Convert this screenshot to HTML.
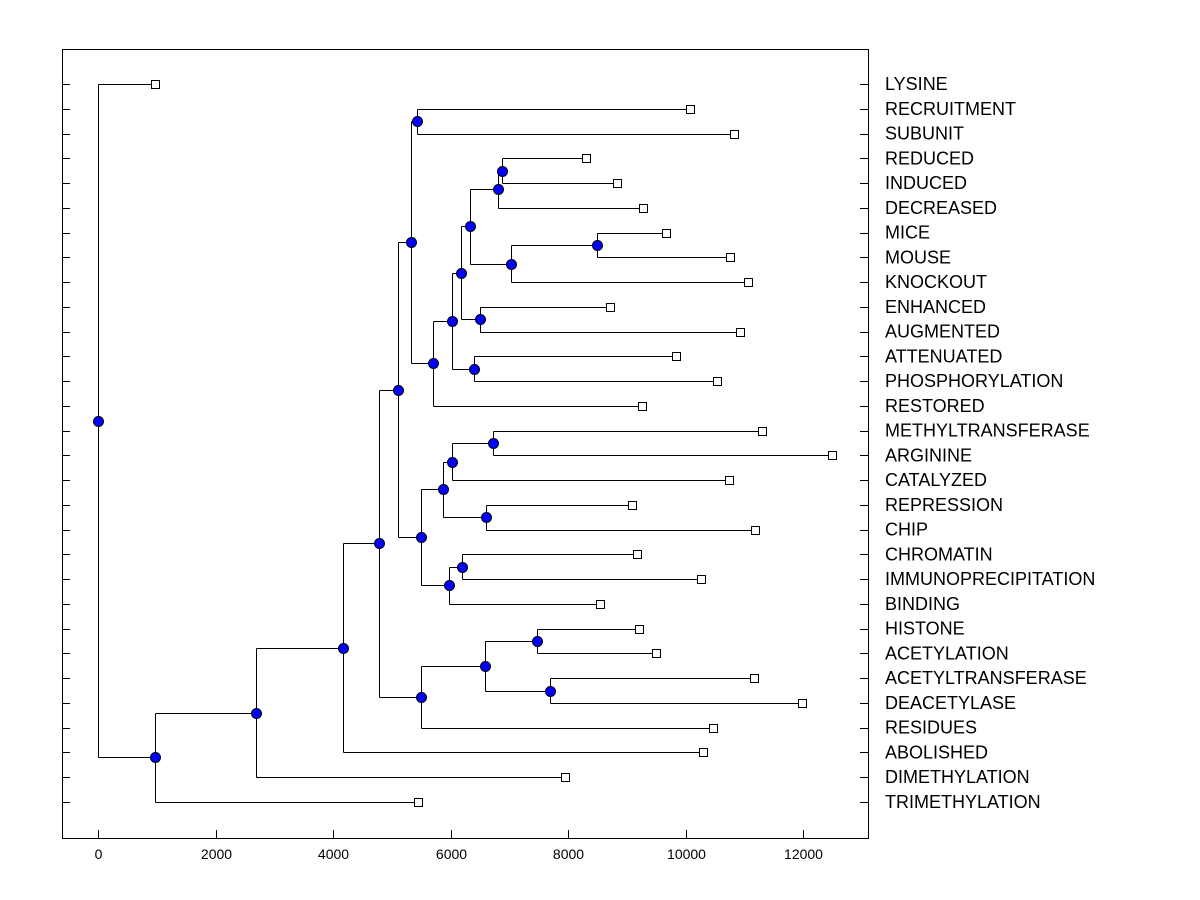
<!DOCTYPE html>
<html><head><meta charset="utf-8"><style>
html,body{margin:0;padding:0;background:#fff;}
svg{display:block;font-family:"Liberation Sans",Arial,sans-serif;}
</style></head><body>
<svg id="chart" width="1200" height="900"></svg>
<script>
const labels=["LYSINE","RECRUITMENT","SUBUNIT","REDUCED","INDUCED","DECREASED","MICE","MOUSE","KNOCKOUT","ENHANCED","AUGMENTED","ATTENUATED","PHOSPHORYLATION","RESTORED","METHYLTRANSFERASE","ARGININE","CATALYZED","REPRESSION","CHIP","CHROMATIN","IMMUNOPRECIPITATION","BINDING","HISTONE","ACETYLATION","ACETYLTRANSFERASE","DEACETYLASE","RESIDUES","ABOLISHED","DIMETHYLATION","TRIMETHYLATION"];
const leafValues=[970,10077,10826,8306,8834,9277,9668,10757,11064,8715,10928,9838,10536,9260,11302,12494,10740,9089,11183,9174,10264,8545,9209,9498,11166,11983,10468,10298,7949,5447];
const mergeLeft=[3,30,6,32,31,9,34,11,36,38,1,40,14,42,17,43,19,46,45,41,22,24,50,52,49,54,55,56,0];
const mergeRight=[4,5,7,8,33,10,35,12,37,13,2,39,15,16,18,44,20,21,47,48,23,25,51,26,53,27,28,29,57];
const mergeHeights=[6877,6809,8494,7030,6332,6502,6179,6400,6026,5702,5430,5328,6723,6026,6604,5872,6196,5974,5498,5106,7472,7694,6587,5498,4783,4170,2689,970,0];
const xTicks=[0,2000,4000,6000,8000,10000,12000];

const NS="http://www.w3.org/2000/svg";
const svg=document.getElementById('chart');
const L=62,R=868,T=49,B=838;
const xMin=-613,xMax=13106;
function xs(v){return L+(v-xMin)/(xMax-xMin)*(R-L);}
const row0=84,rowStep=(802-84)/29;
function ys(i){return row0+i*rowStep;}
function mk(tag,attrs){const e=document.createElementNS(NS,tag);for(const k in attrs)e.setAttribute(k,attrs[k]);svg.appendChild(e);return e;}

let e=mk('rect',{x:L+0.5,y:T+0.5,width:R-L,height:B-T,fill:'none',stroke:'#000','stroke-width':1});



for(let i=0;i<labels.length;i++){
  const y=Math.round(ys(i))+0.5;
  e=mk('line',{x1:L,x2:L+8,y1:y,y2:y,stroke:'#000'});
  
  
  e=mk('line',{x1:R-8,x2:R,y1:y,y2:y,stroke:'#000'});
  
  
  e=mk('text',{x:885,y:ys(i)+6,'font-size':18,fill:'#000'});
  e.textContent=labels[i];
  
  
}
xTicks.forEach(t=>{
  const x=Math.round(xs(t))+0.5;
  e=mk('line',{x1:x,x2:x,y1:B-8,y2:B,stroke:'#000'});
  
  
  e=mk('text',{x:x,y:859,'font-size':14,'text-anchor':'middle',fill:'#000'});
  e.textContent=String(t);
  
  
});

const N=labels.length;
const posX=[],posY=[];
for(let i=0;i<N;i++){posX[i]=xs(leafValues[i]);posY[i]=ys(i);}
const nodes=[];
for(let m=0;m<mergeHeights.length;m++){
  const a=mergeLeft[m],b=mergeRight[m],id=N+m;
  const x=xs(mergeHeights[m]);
  posX[id]=x;posY[id]=(posY[a]+posY[b])/2;
  const xr=Math.round(x)+0.5;
  e=mk('line',{x1:xr,x2:xr,y1:Math.round(posY[a])+0.5,y2:Math.round(posY[b])+0.5,stroke:'#000'});
  
  
  [a,b].forEach(c=>{
    const yc=Math.round(posY[c])+0.5;
    e=mk('line',{x1:xr,x2:Math.round(posX[c])+0.5,y1:yc,y2:yc,stroke:'#000'});
    
    
  });
  nodes.push(id);
}
for(let i=0;i<N;i++){
  e=mk('rect',{x:Math.round(posX[i])-3.5,y:Math.round(posY[i])-3.5,width:8,height:8,fill:'#fff',stroke:'#000'});
  
  
}
nodes.forEach(id=>{
  e=mk('circle',{cx:Math.round(posX[id])+0.5,cy:Math.round(posY[id])+0.5,r:5,fill:'#0000ff',stroke:'#000'});
  
  
});
</script>
</body></html>
